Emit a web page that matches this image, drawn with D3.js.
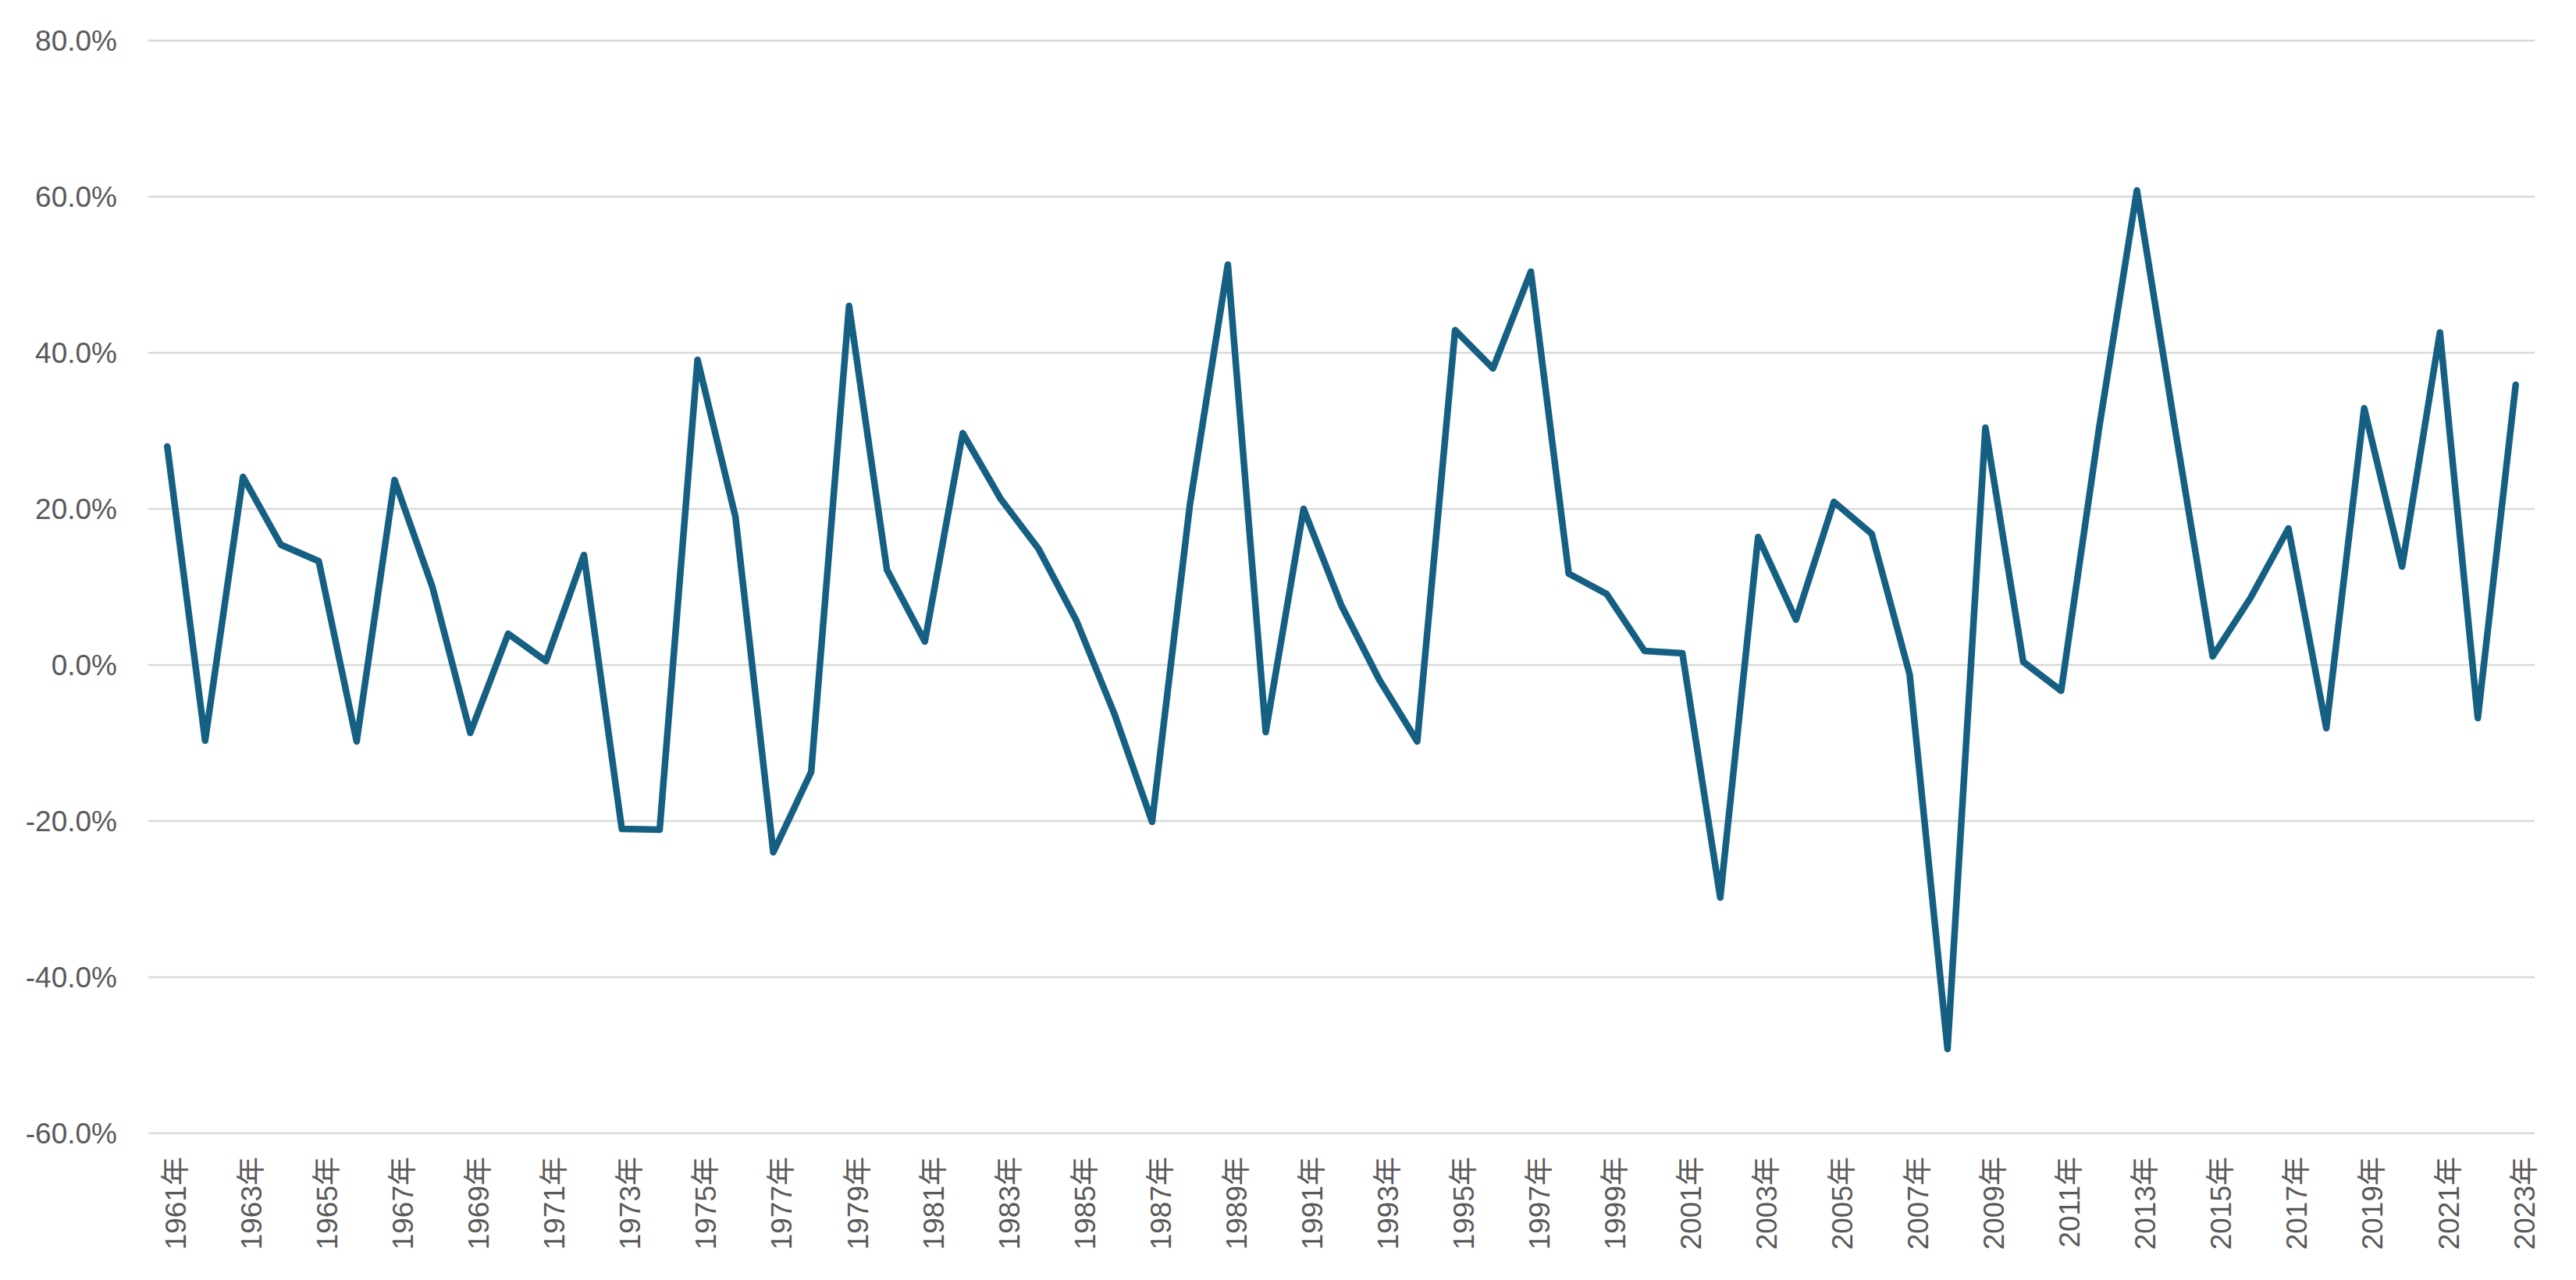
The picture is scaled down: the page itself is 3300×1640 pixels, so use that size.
<!DOCTYPE html>
<html><head><meta charset="utf-8">
<script src="https://cdn.jsdelivr.net/npm/d3@7"></script>
<style>html,body{margin:0;padding:0;background:#fff;}</style>
</head><body>
<svg id="chart" width="3300" height="1640"></svg>
<script>
const years = d3.range(1961, 2024).map(y => y + "年");
const values = [
  28.0, -9.7, 24.1, 15.4, 13.3, -9.8, 23.7, 10.0, -8.7, 4.0,
  0.5, 14.1, -21.0, -21.1, 39.1, 19.0, -24.0, -13.7, 46.0, 12.2,
  3.0, 29.7, 21.3, 14.9, 5.7, -6.2, -20.1, 20.6, 51.3, -8.6,
  20.0, 7.6, -1.9, -9.8, 42.9, 38.0, 50.4, 11.7, 9.1, 1.8,
  1.5, -29.8, 16.4, 5.8, 20.9, 16.8, -1.2, -49.2, 30.4, 0.4,
  -3.3, 30.3, 60.8, 30.5, 1.1, 8.6, 17.5, -8.1, 32.9, 12.6,
  42.6, -6.8, 35.9
];
const yTicks = [-60, -40, -20, 0, 20, 40, 60, 80];

const svg = d3.select("#chart");
const mLeft = 190, mRight = 3247, mTop = 52, mBottom = 1452;
const font = "'Liberation Sans', Arial, 'Noto Sans CJK SC', sans-serif";

const x = d3.scalePoint().domain(years).range([mLeft, mRight]).padding(0.5);
const y = d3.scaleLinear().domain([-60, 80]).range([mBottom, mTop]);

// gridlines
svg.append("g").selectAll("line").data(yTicks).join("line")
  .attr("x1", mLeft).attr("x2", mRight)
  .attr("y1", d => y(d)).attr("y2", d => y(d))
  .attr("stroke", "#d9d9d9").attr("stroke-width", 2.6);

// y axis labels
const yAxis = d3.axisLeft(y).tickValues(yTicks).tickSize(0).tickPadding(0)
  .tickFormat(d => d.toFixed(1) + "%");
const gy = svg.append("g").attr("transform", `translate(150,0)`).call(yAxis);
gy.select(".domain").remove();
gy.selectAll("text").attr("font-family", font).attr("font-size", 37)
  .attr("fill", "#595959").attr("dy", "0.35em").attr("x", 0);

// x axis labels
const xAxis = d3.axisBottom(x).tickValues(years.filter((d, i) => i % 2 === 0)).tickSize(0).tickPadding(0);
const gx = svg.append("g").attr("transform", `translate(0,${mBottom + 30})`).call(xAxis);
gx.select(".domain").remove();
gx.selectAll("text").attr("font-family", font).attr("font-size", 37)
  .attr("fill", "#595959")
  .attr("transform", "rotate(-90)")
  .attr("text-anchor", "end").attr("x", 0).attr("y", 0).attr("dy", "0.63em");

// line
const line = d3.line().x((d, i) => x(years[i])).y(d => y(d));
svg.append("path").datum(values)
  .attr("d", line).attr("fill", "none")
  .attr("stroke", "#156082").attr("stroke-width", 8.5)
  .attr("stroke-linejoin", "round").attr("stroke-linecap", "round");
</script>
</body></html>
